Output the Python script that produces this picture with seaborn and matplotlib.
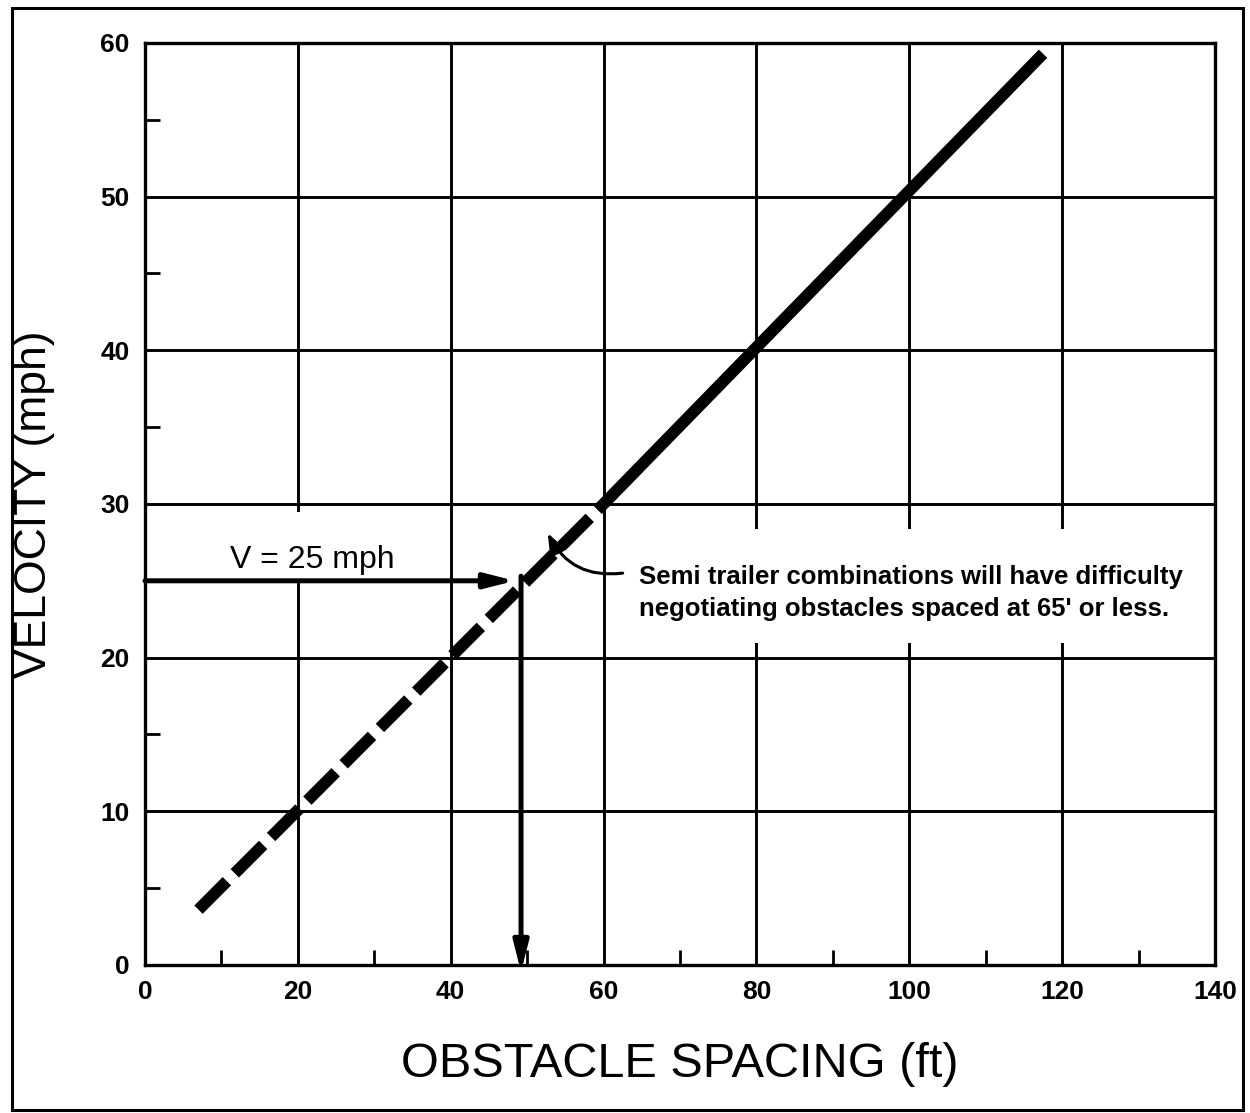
import matplotlib
matplotlib.use("Agg")
import matplotlib.pyplot as plt
import seaborn as sns
import pandas as pd
from matplotlib.patches import Rectangle

# ---- data ----
spacing_ft = [7, 60, 60, 117.5]
velocity_mph = [3.6, 30, 30, 59.3]
segment = ["difficult", "difficult", "ok", "ok"]

x_ticks = [0, 20, 40, 60, 80, 100, 120, 140]
y_ticks = [0, 10, 20, 30, 40, 50, 60]
x_minor = [10, 30, 50, 70, 90, 110, 130]
y_minor = [5, 15, 25, 35, 45, 55]

example_velocity = 25
example_spacing = 49.2

note_text = ("Semi trailer combinations will have difficulty\n"
             "negotiating obstacles spaced at 65' or less.")
v_label = "V = 25 mph"

df = pd.DataFrame({"spacing": spacing_ft, "velocity": velocity_mph, "segment": segment})

sns.set_theme(style="white")
plt.rcParams["font.family"] = ["Liberation Sans", "DejaVu Sans"]
plt.rcParams["text.color"] = "black"
plt.rcParams["axes.labelcolor"] = "black"
plt.rcParams["xtick.color"] = "black"
plt.rcParams["ytick.color"] = "black"

fig = plt.figure(figsize=(12.5, 11.13), dpi=100)
ax = fig.add_axes([0.116, 0.133, 0.856, 0.8284])

ax.set_xlim(0, 140)
ax.set_ylim(0, 60)
ax.set_xticks(x_ticks)
ax.set_yticks(y_ticks)
ax.set_xticks(x_minor, minor=True)
ax.set_yticks(y_minor, minor=True)

ax.grid(True, which="major", color="black", linewidth=2.1)
ax.set_axisbelow(True)
for s in ax.spines.values():
    s.set_color("black")
    s.set_linewidth(2.4)

ax.tick_params(which="major", length=0, labelsize=19, pad=11, colors="black")
ax.tick_params(which="minor", direction="in", length=11, width=2.0, color="black",
               bottom=True, left=True)
for lab in ax.get_xticklabels() + ax.get_yticklabels():
    lab.set_fontweight("bold")

# white boxes behind annotations (hide gridlines)
ax.add_patch(Rectangle((60.35, 20.95), 79.2, 7.45, facecolor="white",
                       edgecolor="none", zorder=1.5))
ax.add_patch(Rectangle((0.6, 24.9), 38.8, 4.6, facecolor="white",
                       edgecolor="none", zorder=1.5))

# main relation line
sns.lineplot(data=df, x="spacing", y="velocity", style="segment",
             dashes={"difficult": (3.4, 0.95), "ok": ""},
             estimator=None, sort=False, legend=False, color="black",
             linewidth=8.5, ax=ax, zorder=3)
for ln in ax.get_lines():
    ln.set_solid_capstyle("butt")
    ln.set_dash_capstyle("butt")

# example arrows
arrow_kw = dict(arrowstyle="-|>,head_length=1.1,head_width=0.28", color="black",
                lw=3.6, mutation_scale=16, shrinkA=0, shrinkB=0)
ax.annotate("", xy=(example_spacing - 0.8, example_velocity),
            xytext=(0, example_velocity), arrowprops=arrow_kw, zorder=4,
            annotation_clip=False)
ax.annotate("", xy=(example_spacing, -0.45), xytext=(example_spacing, example_velocity + 0.3),
            arrowprops=arrow_kw, zorder=4, annotation_clip=False)

ax.text(11.1, 26.35, v_label, fontsize=23, ha="left", va="center", zorder=4)

# note with curved arrow
ax.text(64.6, 24.2, note_text, fontsize=18.5, fontweight="bold", ha="left",
        va="center", linespacing=1.45, zorder=4)
ax.annotate("", xy=(52.7, 28.1), xytext=(62.5, 25.5),
            arrowprops=dict(arrowstyle="-|>,head_length=0.9,head_width=0.35",
                            color="black", lw=2.2, mutation_scale=14,
                            connectionstyle="arc3,rad=-0.35",
                            shrinkA=0, shrinkB=0),
            zorder=5)

ax.set_xlabel("OBSTACLE SPACING (ft)", fontsize=35)
ax.set_ylabel("VELOCITY (mph)", fontsize=32)
ax.xaxis.set_label_coords(0.5, -0.108)
ax.yaxis.set_label_coords(-0.103, 0.5)
ax.xaxis.label.set_va("center")
ax.yaxis.label.set_va("center")
ax.yaxis.label.set_ha("center")

# figure border
fig.patches.append(Rectangle((12 / 1250, 3 / 1113), (1243 - 12) / 1250, (1105 - 3) / 1113,
                             transform=fig.transFigure, fill=False,
                             edgecolor="black", linewidth=2.2))

fig.savefig("out.png", dpi=100, facecolor="white")
